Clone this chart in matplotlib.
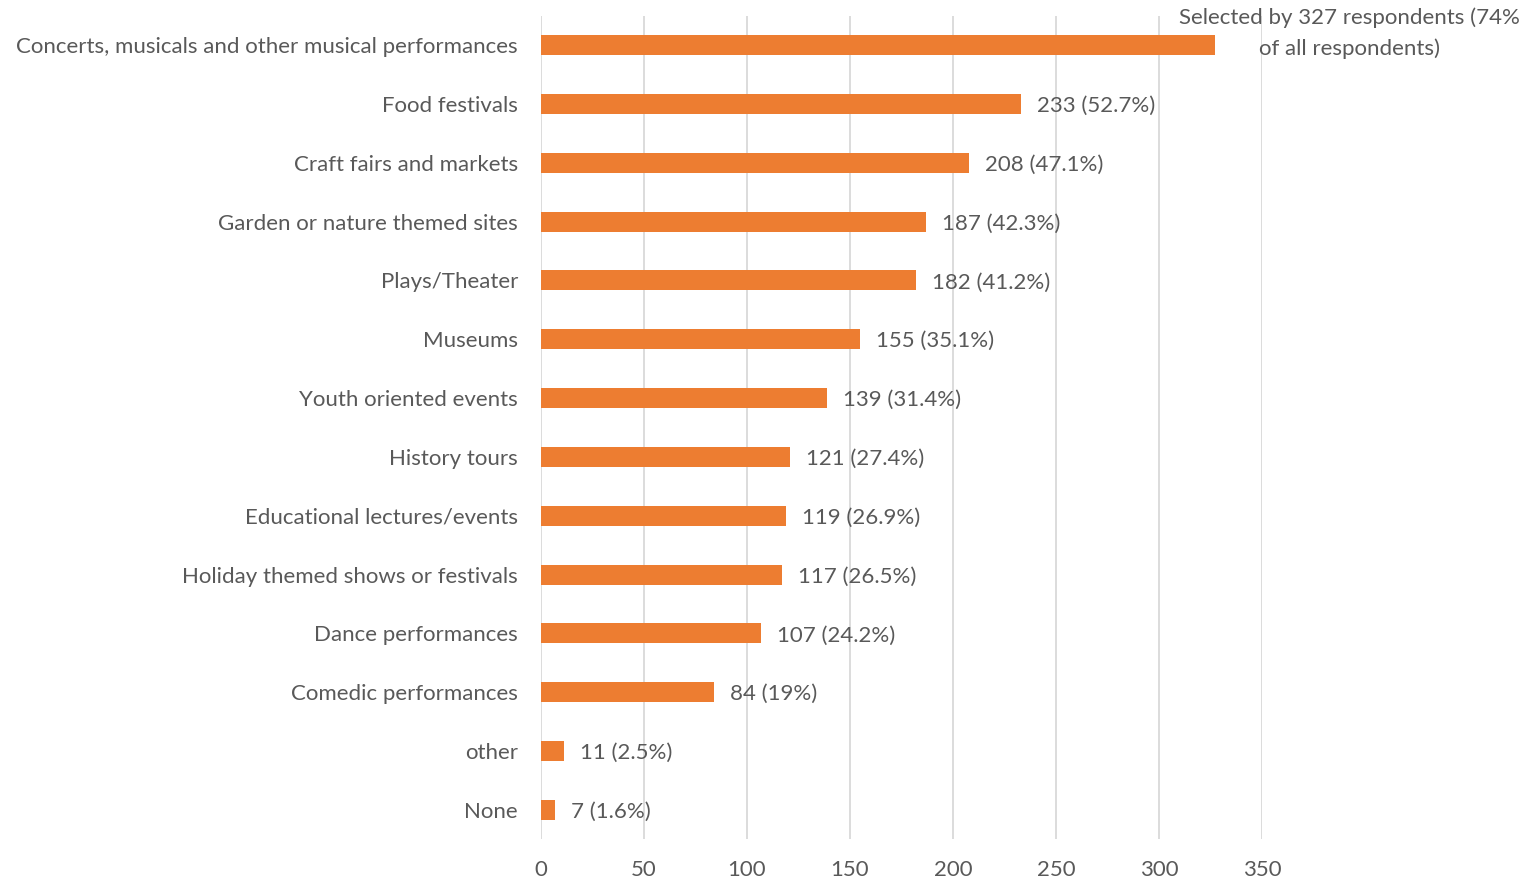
import matplotlib.pyplot as plt

# survey responses: what kinds of events people would attend
categories = [
    "Concerts, musicals and other musical performances",
    "Food festivals",
    "Craft fairs and markets",
    "Garden or nature themed sites",
    "Plays/Theater",
    "Museums",
    "Youth oriented events",
    "History tours",
    "Educational lectures/events",
    "Holiday themed shows or festivals",
    "Dance performances",
    "Comedic performances",
    "other",
    "None",
]
counts = [327, 233, 208, 187, 182, 155, 139, 121, 119, 117, 107, 84, 11, 7]
labels = [
    "Selected by 327 respondents (74%\nof all respondents)",
    "233 (52.7%)", "208 (47.1%)", "187 (42.3%)", "182 (41.2%)",
    "155 (35.1%)", "139 (31.4%)", "121 (27.4%)", "119 (26.9%)",
    "117 (26.5%)", "107 (24.2%)", "84 (19%)", "11 (2.5%)", "7 (1.6%)",
]
xticks = [0, 50, 100, 150, 200, 250, 300, 350]

plt.rcParams['font.family'] = ['Lato', 'DejaVu Sans']
text_color = '#595959'
bar_color = '#ED7D31'
fs = 16

fig = plt.figure(figsize=(15.27, 8.82), dpi=100)
ax = fig.add_axes([0.3543, 0.0483, 0.4721, 0.934])

ypos = list(range(len(categories)))
ax.barh(ypos, counts, height=0.34, color=bar_color, zorder=3)

for i, (v, lab) in enumerate(zip(counts, labels)):
    if i == 0:
        # long note for the top bar sits out past the last gridline
        ax.text(392.5, i - 0.2, lab, ha='center', va='center',
                fontsize=fs, color=text_color, linespacing=1.6,
                clip_on=False)
    else:
        ax.annotate(lab, xy=(v, i), xytext=(11.5, 0),
                    textcoords='offset points', ha='left',
                    va='center_baseline', fontsize=fs, color=text_color)

ax.set_ylim(len(categories) - 0.5, -0.5)
ax.set_xlim(0, 350)
ax.set_yticks(ypos)
ax.set_yticklabels(categories)
ax.set_xticks(xticks)
ax.tick_params(axis='both', length=0, labelsize=fs, labelcolor=text_color)
ax.tick_params(axis='y', pad=16.5)
ax.tick_params(axis='x', pad=14.5)

ax.grid(axis='x', color='#d9d9d9', linewidth=1.3, zorder=0)
for s in ax.spines.values():
    s.set_visible(False)

fig.savefig('out.png', dpi=100)
